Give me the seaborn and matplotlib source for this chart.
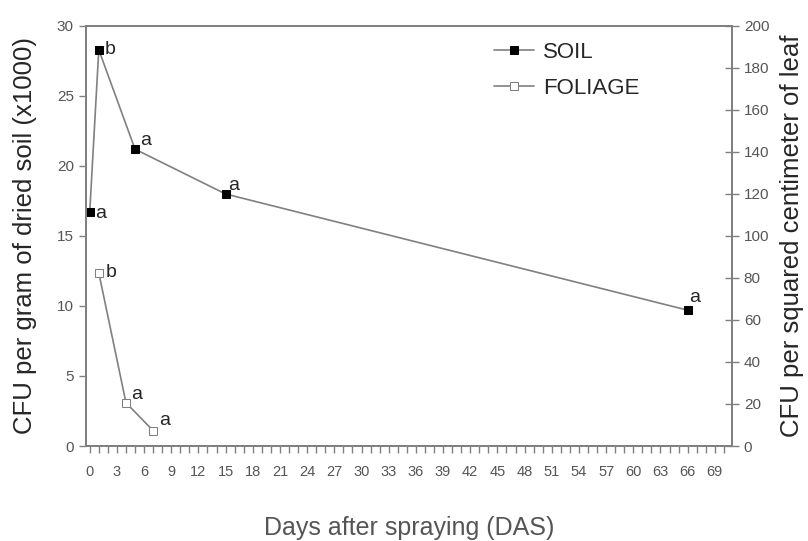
import numpy as np
import pandas as pd
import matplotlib
matplotlib.use("Agg")
import matplotlib.pyplot as plt
import seaborn as sns
from matplotlib.ticker import MultipleLocator

# data
soil_days = [0, 1, 5, 15, 66]
soil_cfu = [16.7, 28.3, 21.2, 18.0, 9.7]
soil_letters = ["a", "b", "a", "a", "a"]

foliage_days = [1, 4, 7]
foliage_cfu = [82.5, 20.6, 7.3]
foliage_letters = ["b", "a", "a"]

x_ticks = list(range(0, 70, 3))

sns.set_style("ticks")
plt.rcParams["font.family"] = ["Liberation Sans", "DejaVu Sans"]

soil = pd.DataFrame({"day": soil_days, "cfu": soil_cfu})
fol = pd.DataFrame({"day": foliage_days, "cfu": foliage_cfu})

grey = "#808080"
fig = plt.figure(figsize=(8.08, 5.41), dpi=100)
ax = fig.add_axes([0.106, 0.1756, 0.8, 0.7764])
ax2 = ax.twinx()

sns.lineplot(data=soil, x="day", y="cfu", ax=ax, color=grey, lw=1.2,
             marker="s", markersize=5.5, markerfacecolor="black",
             markeredgecolor="black", label="SOIL", legend=False)
sns.lineplot(data=fol, x="day", y="cfu", ax=ax2, color=grey, lw=1.2,
             marker="s", markersize=5.5, markerfacecolor="white",
             markeredgecolor=grey, label="FOLIAGE", legend=False)

# significance letters
soil_off = [(4, -1), (4, 0), (4, 6), (2, 6), (1, 9)]
for d, v, t, o in zip(soil_days, soil_cfu, soil_letters, soil_off):
    ax.annotate(t, (d, v), xytext=o, textcoords="offset points",
                ha="left", va="center", fontsize=14)
fol_off = [(5, 0), (4, 6), (4, 7)]
for d, v, t, o in zip(foliage_days, foliage_cfu, foliage_letters, fol_off):
    ax2.annotate(t, (d, v), xytext=o, textcoords="offset points",
                 ha="left", va="center", fontsize=14)

ax.set_xlim(-0.45, 70.9)
ax.set_ylim(0, 30)
ax2.set_ylim(0, 200)
ax.set_xticks(x_ticks)
ax.xaxis.set_minor_locator(MultipleLocator(1))
ax.set_yticks(range(0, 31, 5))
ax2.set_yticks(range(0, 201, 20))

for a in (ax, ax2):
    for s in a.spines.values():
        s.set_color(grey)
        s.set_linewidth(1.3)
ax.tick_params(axis="x", which="both", length=5, width=1, color=grey,
               labelsize=10.5, labelcolor="#555555", pad=9)
ax.tick_params(axis="y", length=5, width=1, color=grey, labelsize=11,
               labelcolor="#555555")
ax2.tick_params(axis="y", direction="inout", length=10, width=1, color=grey,
                labelsize=11, labelcolor="#555555")

ax.set_xlabel("Days after spraying (DAS)", fontsize=18, color="#555555",
              labelpad=26)
ax.set_ylabel("CFU per gram of dried soil (x1000)", fontsize=18.5, labelpad=14)
ax2.set_ylabel("CFU per squared centimeter of leaf", fontsize=18.5, labelpad=8)

h1, l1 = ax.get_legend_handles_labels()
h2, l2 = ax2.get_legend_handles_labels()
ax2.legend(h1 + h2, l1 + l2, loc="upper left", bbox_to_anchor=(0.608, 1.0),
           frameon=False, fontsize=16, handlelength=1.8, handletextpad=0.4,
           labelspacing=0.7, borderaxespad=0.3)

fig.savefig("out.png", dpi=100)
